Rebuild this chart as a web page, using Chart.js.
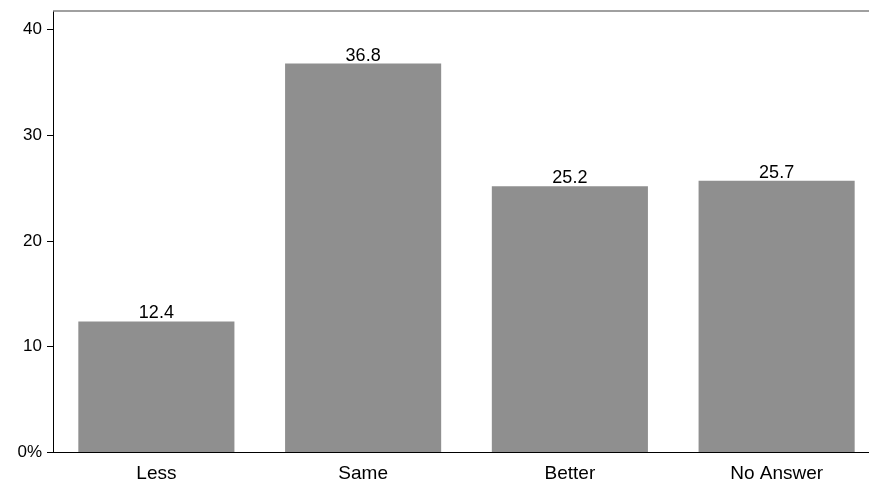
<!DOCTYPE html>
<html>
<head>
<meta charset="utf-8">
<script src="https://cdn.jsdelivr.net/npm/chart.js@4.4.1/dist/chart.umd.min.js"></script>
<style>
  html, body { margin: 0; padding: 0; background: #fff; overflow: hidden; }
  #wrap { position: relative; width: 880px; height: 483px; }
</style>
</head>
<body>
<div id="wrap"><canvas id="c"></canvas></div>
<script>
const categories = ["Less", "Same", "Better", "No Answer"];
const values = [12.4, 36.8, 25.2, 25.7];
const yTicks = [0, 10, 20, 30, 40];

const valueLabels = {
  id: 'valueLabels',
  afterDatasetsDraw(chart) {
    const ctx = chart.ctx;
    const meta = chart.getDatasetMeta(0);
    ctx.save();
    ctx.font = '18px "Liberation Sans", Arial, sans-serif';
    ctx.fillStyle = '#000';
    ctx.textAlign = 'center';
    ctx.textBaseline = 'alphabetic';
    meta.data.forEach((bar, i) => {
      ctx.fillText(values[i].toFixed(1), bar.x, bar.y - 3);
    });
    ctx.restore();
  }
};

const topLine = {
  id: 'topLine',
  afterDraw(chart) {
    const a = chart.chartArea, ctx = chart.ctx;
    ctx.save();
    ctx.strokeStyle = '#808080';
    ctx.lineWidth = 1.5;
    ctx.beginPath();
    ctx.moveTo(a.left, a.top);
    ctx.lineTo(a.right, a.top);
    ctx.stroke();
    ctx.restore();
  }
};

new Chart(document.getElementById('c'), {
  type: 'bar',
  data: {
    labels: categories,
    datasets: [{
      data: values,
      backgroundColor: '#8f8f8f',
      borderWidth: 0,
      barPercentage: 0.755,
      categoryPercentage: 1.0
    }]
  },
  options: {
    responsive: true,
    maintainAspectRatio: false,
    animation: false,
    layout: { padding: { top: 11, bottom: 0, left: 0, right: 0 } },
    plugins: { legend: { display: false }, tooltip: { enabled: false } },
    scales: {
      x: {
        grid: { display: false, drawTicks: false },
        border: { display: true, color: '#000', width: 1 },
        afterFit: (s) => { s.height = 30.5; s.paddingLeft = 0; s.paddingRight = 0; },
        ticks: {
          color: '#000',
          padding: 10,
          font: { family: '"Liberation Sans", Arial, sans-serif', size: 19 },
          maxRotation: 0
        }
      },
      y: {
        min: 0,
        max: 41.77,
        afterBuildTicks: (s) => { s.ticks = yTicks.map(v => ({ value: v })); },
        grid: { drawOnChartArea: false, drawTicks: true, tickLength: 6, color: '#000' },
        border: { display: true, color: '#000', width: 1 },
        afterFit: (s) => { s.width = 53; s.paddingTop = 0; s.paddingBottom = 0; },
        ticks: {
          color: '#000',
          padding: 5,
          font: { family: '"Liberation Sans", Arial, sans-serif', size: 17 },
          callback: (v) => v === 0 ? '0%' : String(v)
        }
      }
    }
  },
  plugins: [valueLabels, topLine]
});
</script>
</body>
</html>
